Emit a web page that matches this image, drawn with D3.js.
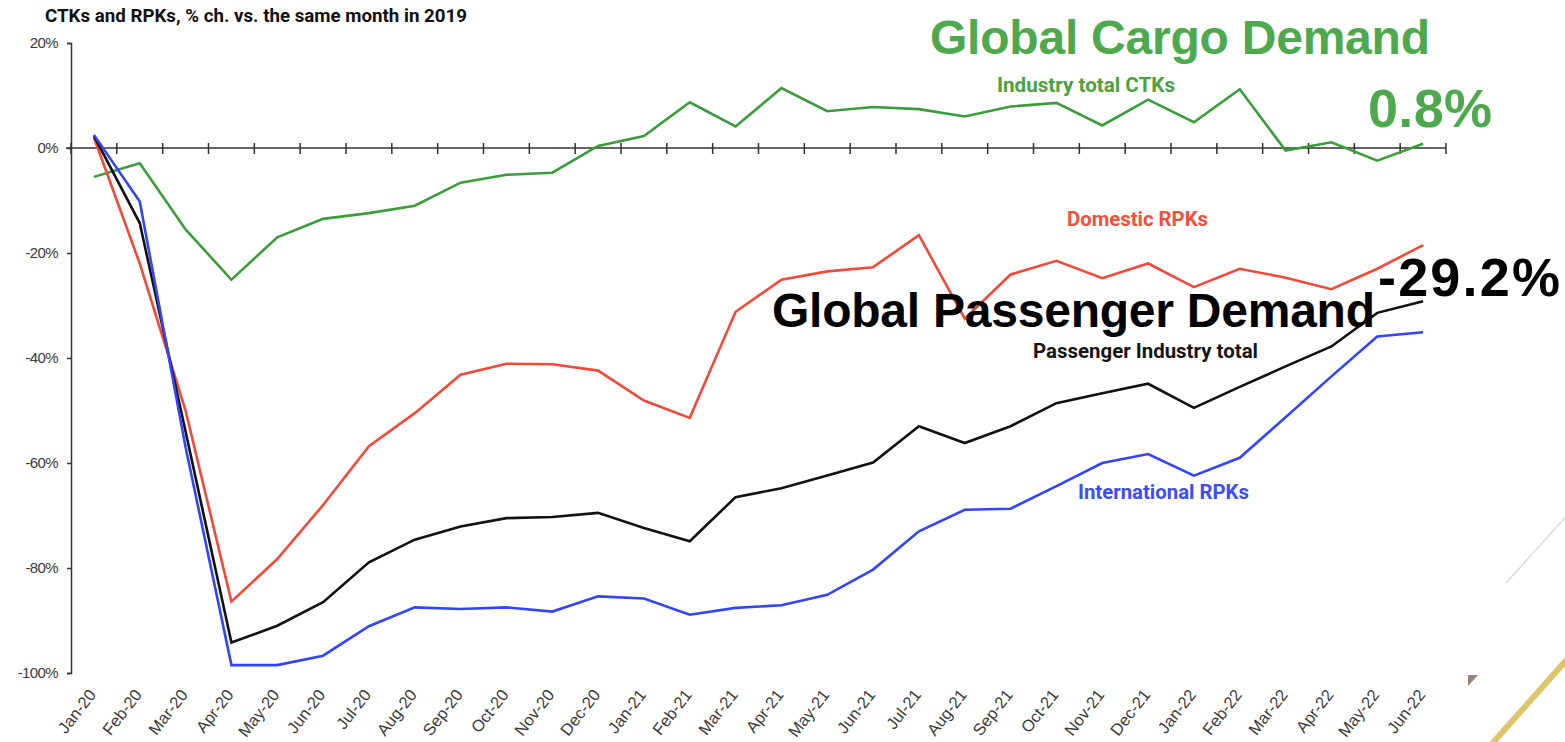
<html>
<head>
  <meta charset="utf-8">
  <title>CTKs and RPKs</title>
  <style>
    body { margin: 0; background: #fff; overflow: hidden; }
    svg { display: block; }
    .series { fill: none; stroke-width: 2.6; stroke-linejoin: miter; }
    .tick-label { font-family: 'Liberation Sans', Arial, sans-serif; font-size: 15px; fill: #3a3a3a; }
    .month-label { font-family: 'Liberation Sans', Arial, sans-serif; font-size: 16.5px; fill: #3a3a3a; }
    .big { font-family: 'Liberation Sans', Arial, sans-serif; font-weight: bold; }
    .tag { font-family: 'Liberation Sans Narrow', 'Roboto', sans-serif; font-weight: bold; }
  </style>
  <script src="https://d3js.org/d3.v7.min.js"></script>
</head>
<body>
<script>
  // months on the x axis
  const months = ['Jan-20','Feb-20','Mar-20','Apr-20','May-20','Jun-20','Jul-20','Aug-20','Sep-20','Oct-20','Nov-20','Dec-20',
                  'Jan-21','Feb-21','Mar-21','Apr-21','May-21','Jun-21','Jul-21','Aug-21','Sep-21','Oct-21','Nov-21','Dec-21',
                  'Jan-22','Feb-22','Mar-22','Apr-22','May-22','Jun-22'];

  // % change vs same month of 2019
  const cargoCTKs = [-5.5, -2.9, -15.5, -25.1, -17.0, -13.5, -12.4, -11.0, -6.6, -5.1, -4.7, 0.4,
                     2.3, 8.7, 4.1, 11.4, 7.0, 7.8, 7.4, 6.0, 7.9, 8.6, 4.3, 9.2,
                     4.9, 11.2, -0.5, 1.1, -2.4, 0.8];
  const domesticRPKs = [2.0, -22.0, -50.0, -86.4, -78.3, -68.0, -56.8, -50.5, -43.2, -41.1, -41.2, -42.4,
                        -48.1, -51.4, -31.2, -25.1, -23.5, -22.7, -16.6, -32.5, -24.1, -21.5, -24.8, -22.0,
                        -26.5, -23.0, -24.7, -26.9, -23.0, -18.5];
  const totalRPKs = [2.3, -14.3, -54.0, -94.2, -91.0, -86.5, -78.9, -74.6, -72.1, -70.5, -70.3, -69.5,
                     -72.4, -74.9, -66.5, -64.8, -62.4, -59.9, -53.0, -56.2, -53.0, -48.6, -46.7, -44.9,
                     -49.5, -45.5, -41.6, -37.8, -31.4, -29.2];
  const intlRPKs = [2.5, -10.2, -57.0, -98.5, -98.5, -96.7, -91.1, -87.5, -87.8, -87.5, -88.3, -85.4,
                    -85.8, -88.9, -87.6, -87.1, -85.1, -80.3, -73.0, -68.9, -68.7, -64.4, -60.0, -58.3,
                    -62.4, -59.0, -51.3, -43.5, -35.9, -35.1];

  const yTicks = [20, 0, -20, -40, -60, -80, -100];

  const width = 1565, height = 742;

  const svg = d3.select("body").append("svg")
    .attr("width", width)
    .attr("height", height);

  const x = d3.scaleBand().domain(months).range([71, 1446]);
  const y = d3.scaleLinear().domain([-100, 20]).range([673, 43]);
  const cx = m => x(m) + x.bandwidth() / 2;

  // title
  svg.append("text")
    .attr("class", "tag")
    .attr("x", 45).attr("y", 22)
    .attr("font-size", 18)
    .attr("fill", "#111")
    .attr("textLength", 422)
    .attr("lengthAdjust", "spacingAndGlyphs")
    .text("CTKs and RPKs, % ch. vs. the same month in 2019");

  // y axis
  const yAxis = svg.append("g")
    .attr("transform", "translate(71,0)")
    .call(d3.axisLeft(y).tickValues(yTicks).tickSize(4).tickFormat(d => d + "%"));
  yAxis.select(".domain").attr("stroke", "#333").attr("stroke-width", 1.5);
  yAxis.selectAll(".tick line").attr("stroke", "#333").attr("stroke-width", 1.5);
  yAxis.selectAll(".tick text")
    .attr("class", "tick-label")
    .attr("x", -13)
    .attr("letter-spacing", -0.6);

  // x axis along 0%
  const x0 = y(0);
  svg.append("line")
    .attr("x1", 66).attr("x2", x.range()[1])
    .attr("y1", x0).attr("y2", x0)
    .attr("stroke", "#333").attr("stroke-width", 1.5);
  const tickXs = months.map(m => x(m)).concat([x.range()[1]]);
  svg.selectAll(".xtick").data(tickXs).enter().append("line")
    .attr("class", "xtick")
    .attr("x1", d => d).attr("x2", d => d)
    .attr("y1", x0 - 5).attr("y2", x0 + 6)
    .attr("stroke", "#333").attr("stroke-width", 1.5);

  svg.selectAll(".xlab").data(months).enter().append("text")
    .attr("class", "month-label")
    .attr("text-anchor", "end")
    .attr("transform", d => `translate(${cx(d) + 3},695) rotate(-52)`)
    .text(d => d);

  // lines
  const line = d3.line().x((d, i) => cx(months[i])).y(d => y(d));
  const series = [
    { values: cargoCTKs, color: "#3a9c3a" },
    { values: domesticRPKs, color: "#f24a3a" },
    { values: totalRPKs, color: "#111111" },
    { values: intlRPKs, color: "#3344ff" }
  ];
  svg.selectAll(".series").data(series).enter().append("path")
    .attr("class", "series")
    .attr("stroke", d => d.color)
    .attr("d", d => line(d.values));

  // series labels
  const tags = [
    { text: "Industry total CTKs", x: 997, y: 92, w: 178, color: "#49a33f" },
    { text: "Domestic RPKs", x: 1067, y: 226, w: 141, color: "#f0503e" },
    { text: "Passenger Industry total", x: 1033, y: 358, w: 225, color: "#151515" },
    { text: "International RPKs", x: 1078, y: 499, w: 171, color: "#3e4cf5" }
  ];
  svg.selectAll(".serlab").data(tags).enter().append("text")
    .attr("class", "tag")
    .attr("x", d => d.x).attr("y", d => d.y)
    .attr("font-size", 20)
    .attr("fill", d => d.color)
    .attr("textLength", d => d.w)
    .attr("lengthAdjust", "spacingAndGlyphs")
    .text(d => d.text);

  // big call-outs
  const callouts = [
    { text: "Global Cargo Demand", x: 930, y: 54, size: 48, w: 500, color: "#4ea84e" },
    { text: "0.8%", x: 1368, y: 127, size: 54, w: 124, color: "#4ea84e" },
    { text: "-29.2%", x: 1378, y: 296, size: 54, w: 182, color: "#000" },
    { text: "Global Passenger Demand", x: 772, y: 327, size: 48, w: 603, color: "#000" }
  ];
  svg.selectAll(".callout").data(callouts).enter().append("text")
    .attr("class", "big")
    .attr("x", d => d.x).attr("y", d => d.y)
    .attr("font-size", d => d.size)
    .attr("fill", d => d.color)
    .attr("textLength", d => d.w)
    .attr("lengthAdjust", "spacing")
    .text(d => d.text);

  // slide decoration in the corner
  svg.append("line")
    .attr("x1", 1506).attr("y1", 583).attr("x2", 1570).attr("y2", 512)
    .attr("stroke", "#dcdcdc").attr("stroke-width", 1.5);
  svg.append("line")
    .attr("x1", 1490).attr("y1", 746).attr("x2", 1570).attr("y2", 656)
    .attr("stroke", "#dcc66c").attr("stroke-width", 6);
  svg.append("path")
    .attr("d", "M1468,675 L1478,675 L1468,686 Z")
    .attr("fill", "#8f877c");
</script>
</body>
</html>
